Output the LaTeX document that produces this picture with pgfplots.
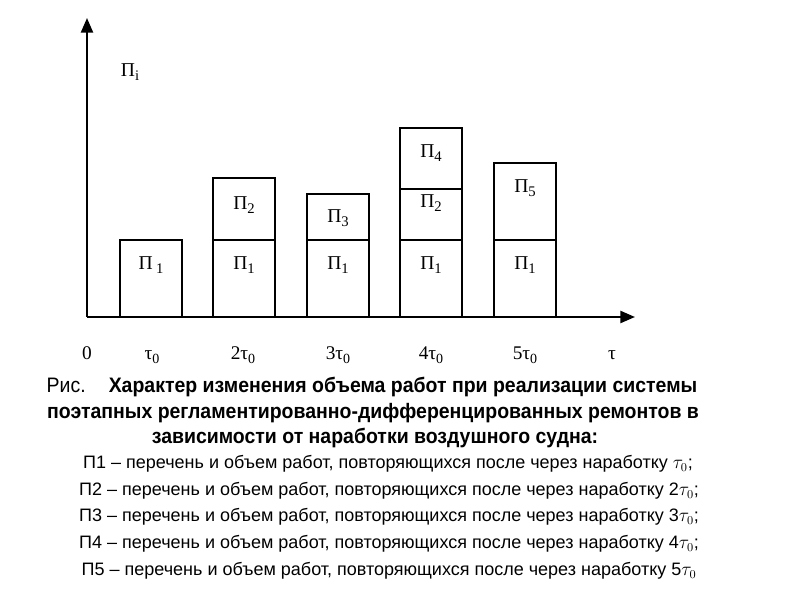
\documentclass[border=0pt]{standalone}
\usepackage{fontspec}
\setmainfont{Liberation Serif}
\newfontfamily\capfont[FakeStretch=0.93]{Liberation Sans}
\newfontfamily\lowfont{Liberation Sans}
\usepackage{pgfplots}
\pgfplotsset{compat=1.18}
\usetikzlibrary{arrows.meta}
\newcommand\sub[1]{\raisebox{-0.45ex}{\fontsize{11}{12}\selectfont #1}}
\newcommand\tsub[1]{\raisebox{-0.4ex}{\fontsize{10.5}{12}\selectfont #1}}
\tikzset{lab/.style={font=\fontsize{14.7}{16}\selectfont}}
\begin{document}
\begin{tikzpicture}[x=0.75pt,y=0.75pt]
\path[use as bounding box] (0,0) rectangle (800,600);
\begin{axis}[
  at={(87,283)}, anchor=south west,
  scale only axis, width=411pt, height=224.25pt,
  xmin=87, xmax=635, ymin=0, ymax=299,
  axis lines=left,
  axis line style={line width=1.8pt, -{Triangle[length=11pt,width=9pt]}},
  xtick={87,152,243,338,431,525,612},
  xticklabels={0, τ\tsub{0}, 2τ\tsub{0}, 3τ\tsub{0}, 4τ\tsub{0}, 5τ\tsub{0}, τ},
  major tick length=0,
  ytick=\empty,
  xticklabel style={anchor=base, yshift=-32pt, font=\fontsize{14.5}{16}\selectfont},
  clip=false,
  ybar stacked, bar width=62,
]
\addplot[fill=white, draw=black, line width=1pt] coordinates {(151,77) (244,77) (338,77) (431,77) (525,77)};
\addplot[fill=white, draw=black, line width=1pt] coordinates {(151,0) (244,62) (338,46) (431,51) (525,77)};
\addplot[fill=white, draw=black, line width=1pt] coordinates {(151,0) (244,0) (338,0) (431,61) (525,0)};
\end{axis}
% cell labels (tikz y = 283 + axis y)
\node[lab] at (151,335) {Π\,\sub{1}};
\node[lab] at (244,335) {Π\sub{1}};
\node[lab] at (338,335) {Π\sub{1}};
\node[lab] at (431,335) {Π\sub{1}};
\node[lab] at (525,335) {Π\sub{1}};
\node[lab] at (244,395) {Π\sub{2}};
\node[lab] at (338,382) {Π\sub{3}};
\node[lab] at (431,397) {Π\sub{2}};
\node[lab] at (431,447) {Π\sub{4}};
\node[lab] at (525,412) {Π\sub{5}};
\node[lab] at (130,528) {Π\sub{i}};
\node[anchor=base, inner sep=0pt, font=\capfont\fontsize{15.7}{18}\selectfont] at (372,207) {Рис.\hspace{1.1em}\bfseries Характер изменения объема работ при реализации системы};
\node[anchor=base, inner sep=0pt, font=\capfont\bfseries\fontsize{15.7}{18}\selectfont] at (373,181) {поэтапных регламентированно-дифференцированных ремонтов в};
\node[anchor=base, inner sep=0pt, font=\capfont\bfseries\fontsize{15.7}{18}\selectfont] at (375,156) {зависимости от наработки воздушного судна:};
\node[anchor=base, inner sep=0pt, font=\lowfont\fontsize{13.5}{16}\selectfont] at (388,131) {П1 – перечень и объем работ, повторяющихся после через наработку $\tau_{0}$;};
\node[anchor=base, inner sep=0pt, font=\lowfont\fontsize{13.5}{16}\selectfont] at (389,104) {П2 – перечень и объем работ, повторяющихся после через наработку 2$\tau_{0}$;};
\node[anchor=base, inner sep=0pt, font=\lowfont\fontsize{13.5}{16}\selectfont] at (389,78) {П3 – перечень и объем работ, повторяющихся после через наработку 3$\tau_{0}$;};
\node[anchor=base, inner sep=0pt, font=\lowfont\fontsize{13.5}{16}\selectfont] at (389,51) {П4 – перечень и объем работ, повторяющихся после через наработку 4$\tau_{0}$;};
\node[anchor=base, inner sep=0pt, font=\lowfont\fontsize{13.5}{16}\selectfont] at (389,24) {П5 – перечень и объем работ, повторяющихся после через наработку 5$\tau_{0}$};
\end{tikzpicture}
\end{document}
